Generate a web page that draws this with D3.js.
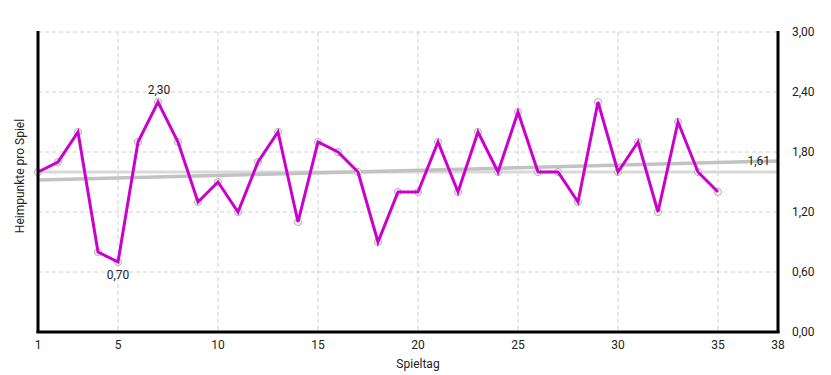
<!DOCTYPE html>
<meta charset="utf-8">
<style>
body { margin: 0; background: #fff; }
text { font-family: Roboto, "Noto Sans", sans-serif; fill: #222; }
.grid line { stroke: #d0d0d0; stroke-width: 1; stroke-dasharray: 4,3; }
.axisline { stroke: #000; stroke-width: 3; }
</style>
<svg width="831" height="375"></svg>
<script src="https://cdnjs.cloudflare.com/ajax/libs/d3/7.8.5/d3.min.js"></script>
<script>
// Heimpunkte pro Spiel, Spieltag 1..35
var spieltage = d3.range(1, 36);
var punkte = [1.60, 1.70, 2.00, 0.80, 0.70, 1.90, 2.30, 1.90, 1.30, 1.50,
              1.20, 1.70, 2.00, 1.10, 1.90, 1.80, 1.60, 0.90, 1.40, 1.40,
              1.90, 1.40, 2.00, 1.60, 2.20, 1.60, 1.60, 1.30, 2.30, 1.60,
              1.90, 1.20, 2.10, 1.60, 1.40];
var xTicks = [1, 5, 10, 15, 20, 25, 30, 35, 38];
var yTicks = [0, 0.6, 1.2, 1.8, 2.4, 3.0];
var referenzWert = 1.60;          // helle Linie
var trendStart = 1.52, trendEnde = 1.71;  // Trendlinie Spieltag 1 -> 38
var schnittLabel = "1,61";

var svg = d3.select("svg"),
    margin = {top: 32, right: 53, bottom: 43, left: 38},
    width = +svg.attr("width") - margin.left - margin.right,
    height = +svg.attr("height") - margin.top - margin.bottom;

var x = d3.scaleLinear().domain([1, 38]).range([0, width]),
    y = d3.scaleLinear().domain([0, 3]).range([height, 0]);

var fmt = function(v) { return d3.format(".2f")(v).replace(".", ","); };

var g = svg.append("g")
    .attr("transform", "translate(" + margin.left + "," + margin.top + ")");

// grid
var grid = g.append("g").attr("class", "grid");
grid.selectAll(".hy")
    .data(yTicks.filter(function(d) { return d > 0; }))
  .enter().append("line")
    .attr("x1", 0).attr("x2", width)
    .attr("y1", function(d) { return y(d); })
    .attr("y2", function(d) { return y(d); });
grid.selectAll(".vx")
    .data(xTicks.filter(function(d) { return d !== 1 && d !== 38; }))
  .enter().append("line")
    .attr("y1", 0).attr("y2", height)
    .attr("x1", function(d) { return x(d); })
    .attr("x2", function(d) { return x(d); });

// reference + trend lines
g.append("line")
    .attr("x1", x(1)).attr("x2", x(38))
    .attr("y1", y(referenzWert)).attr("y2", y(referenzWert))
    .style("stroke", "#d9d9d9").style("stroke-width", 3);
g.append("line")
    .attr("x1", x(1)).attr("x2", x(38))
    .attr("y1", y(trendStart)).attr("y2", y(trendEnde))
    .style("stroke", "#c2c2c2").style("stroke-width", 3.5);

// markers
g.selectAll("circle")
    .data(punkte)
  .enter().append("circle")
    .attr("cx", function(d, i) { return x(spieltage[i]); })
    .attr("cy", function(d) { return y(d); })
    .attr("r", 3.5)
    .style("fill", "#fff")
    .style("stroke", "#aaa")
    .style("stroke-width", 1);

var line = d3.line()
    .x(function(d, i) { return x(spieltage[i]); })
    .y(function(d) { return y(d); });

g.append("path")
    .datum(punkte)
    .attr("d", line)
    .style("fill", "none")
    .style("stroke", "#cc00cc")
    .style("stroke-width", 3)
    .style("stroke-linejoin", "miter");

// min / max labels
var iMax = punkte.indexOf(d3.max(punkte)),
    iMin = punkte.indexOf(d3.min(punkte));
g.append("text")
    .attr("x", x(spieltage[iMax]) + 1)
    .attr("y", y(punkte[iMax]) - 8)
    .attr("text-anchor", "middle")
    .style("font-size", "12px")
    .text(fmt(punkte[iMax]));
g.append("text")
    .attr("x", x(spieltage[iMin]))
    .attr("y", y(punkte[iMin]) + 17)
    .attr("text-anchor", "middle")
    .style("font-size", "12px")
    .text(fmt(punkte[iMin]));
g.append("text")
    .attr("x", x(38) - 8)
    .attr("y", y(trendEnde) + 4)
    .attr("text-anchor", "end")
    .style("font-size", "12px")
    .text(schnittLabel);

// axes lines
g.append("line").attr("class", "axisline")
    .attr("x1", 0).attr("x2", 0).attr("y1", -1).attr("y2", height + 1);
g.append("line").attr("class", "axisline")
    .attr("x1", width).attr("x2", width).attr("y1", -1).attr("y2", height + 1);
g.append("line").attr("class", "axisline")
    .attr("x1", -1.5).attr("x2", width + 1.5).attr("y1", height).attr("y2", height);

// tick labels
g.selectAll(".xl")
    .data(xTicks)
  .enter().append("text")
    .attr("x", function(d) { return x(d); })
    .attr("y", height + 17)
    .attr("text-anchor", "middle")
    .style("font-size", "12px")
    .text(function(d) { return d; });
g.selectAll(".yl")
    .data(yTicks)
  .enter().append("text")
    .attr("x", width + 14)
    .attr("y", function(d) { return y(d) + 4; })
    .style("font-size", "12px")
    .text(fmt);

// axis titles
svg.append("text")
    .attr("x", margin.left + x(20))
    .attr("y", 368)
    .attr("text-anchor", "middle")
    .style("font-size", "12px")
    .text("Spieltag");
svg.append("text")
    .attr("transform", "translate(24," + 176 + ") rotate(-90)")
    .attr("text-anchor", "middle")
    .style("font-size", "12px")
    .text("Heimpunkte pro Spiel");
</script>
